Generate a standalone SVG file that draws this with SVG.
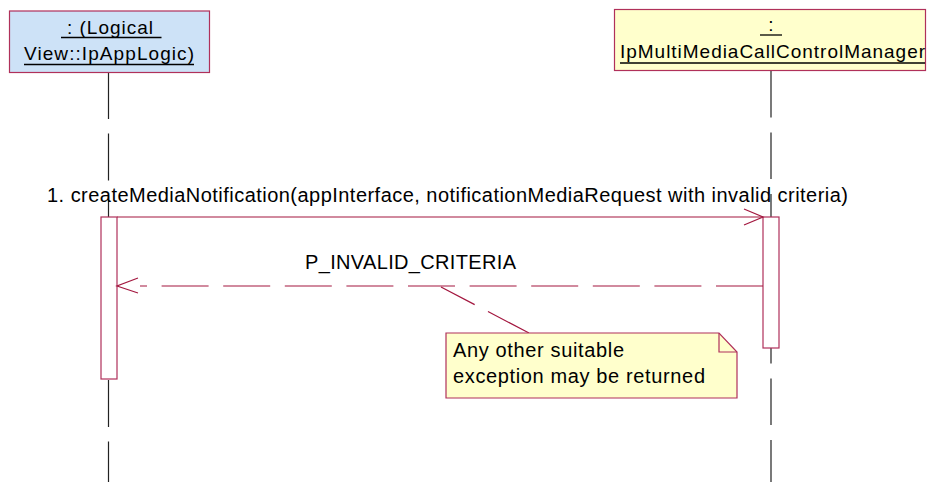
<svg xmlns="http://www.w3.org/2000/svg" width="927" height="482" viewBox="0 0 927 482">
<defs>
<style>
.obj{stroke:#b0305a;stroke-width:1.2}
.blue{fill:#cde2f7}
.yel{fill:#ffffcc}
.t{font-family:"Liberation Sans",Arial,sans-serif;font-size:20px;fill:#000}
.tb{font-family:"Liberation Sans",Arial,sans-serif;font-size:19px;fill:#000}
.ul{stroke:#000;stroke-width:1.3}
.life{stroke:#222;stroke-width:1.2;fill:none}
.act{fill:#fff;stroke:#b0305a;stroke-width:1.2}
.msg{stroke:#a3173f;stroke-width:1.2;fill:none}
</style>
</defs>
<rect width="927" height="482" fill="#fff"/>
<g id="lifelines">
<line class="life" x1="108.5" y1="72" x2="108.5" y2="482" stroke-dasharray="47 14.6"/>
<line class="life" x1="771" y1="71" x2="771" y2="482" stroke-dasharray="46.5 15"/>
</g>
<g id="obj-ipapplogic">
<rect class="obj blue" x="9.5" y="11" width="200" height="61.5"/>
<text class="tb" x="67" y="34" textLength="86" lengthAdjust="spacing">: (Logical</text>
<line class="ul" x1="61" y1="37.5" x2="161.5" y2="37.5"/>
<text class="tb" x="24" y="60" textLength="170" lengthAdjust="spacing">View::IpAppLogic)</text>
<line class="ul" x1="24" y1="64.5" x2="194" y2="64.5"/>
</g>
<g id="obj-manager">
<rect class="obj yel" x="614.5" y="9.5" width="311" height="61"/>
<text class="tb" x="771" y="31" text-anchor="middle">:</text>
<line class="ul" x1="760" y1="35" x2="782" y2="35"/>
<text class="tb" x="620" y="58" textLength="305" lengthAdjust="spacing">IpMultiMediaCallControlManager</text>
<line class="ul" x1="620" y1="63" x2="925" y2="63"/>
</g>
<g id="act-left">
<rect class="act" x="101" y="217" width="16" height="162"/>
</g>
<g id="act-right">
<rect class="act" x="763" y="217" width="16" height="131"/>
</g>
<g id="connectors">
<line class="msg" x1="117" y1="217" x2="763" y2="217"/>
<polyline class="msg" points="744,209 763,217 744,225"/>
<line class="msg" x1="763" y1="286" x2="140" y2="286" stroke-dasharray="47 14.6"/>
<polyline class="msg" points="138,278 117,286 138,293"/>
<line class="msg" x1="441" y1="287" x2="529" y2="333" stroke-dasharray="47 15" stroke-dashoffset="9"/>
</g>
<g id="labels">
<text class="t" x="47" y="202" textLength="801" lengthAdjust="spacing">1. createMediaNotification(appInterface, notificationMediaRequest with invalid criteria)</text>
<text class="t" x="305" y="269" textLength="211" lengthAdjust="spacing">P_INVALID_CRITERIA</text>
</g>
<g id="note">
<path class="obj yel" d="M446,333 H719 L737,352 V398 H446 Z"/>
<path class="obj" fill="none" d="M719,333 V352 H737"/>
<text class="t" x="453" y="357" textLength="171" lengthAdjust="spacing">Any other suitable</text>
<text class="t" x="453" y="383" textLength="252" lengthAdjust="spacing">exception may be returned</text>
</g>
</svg>
